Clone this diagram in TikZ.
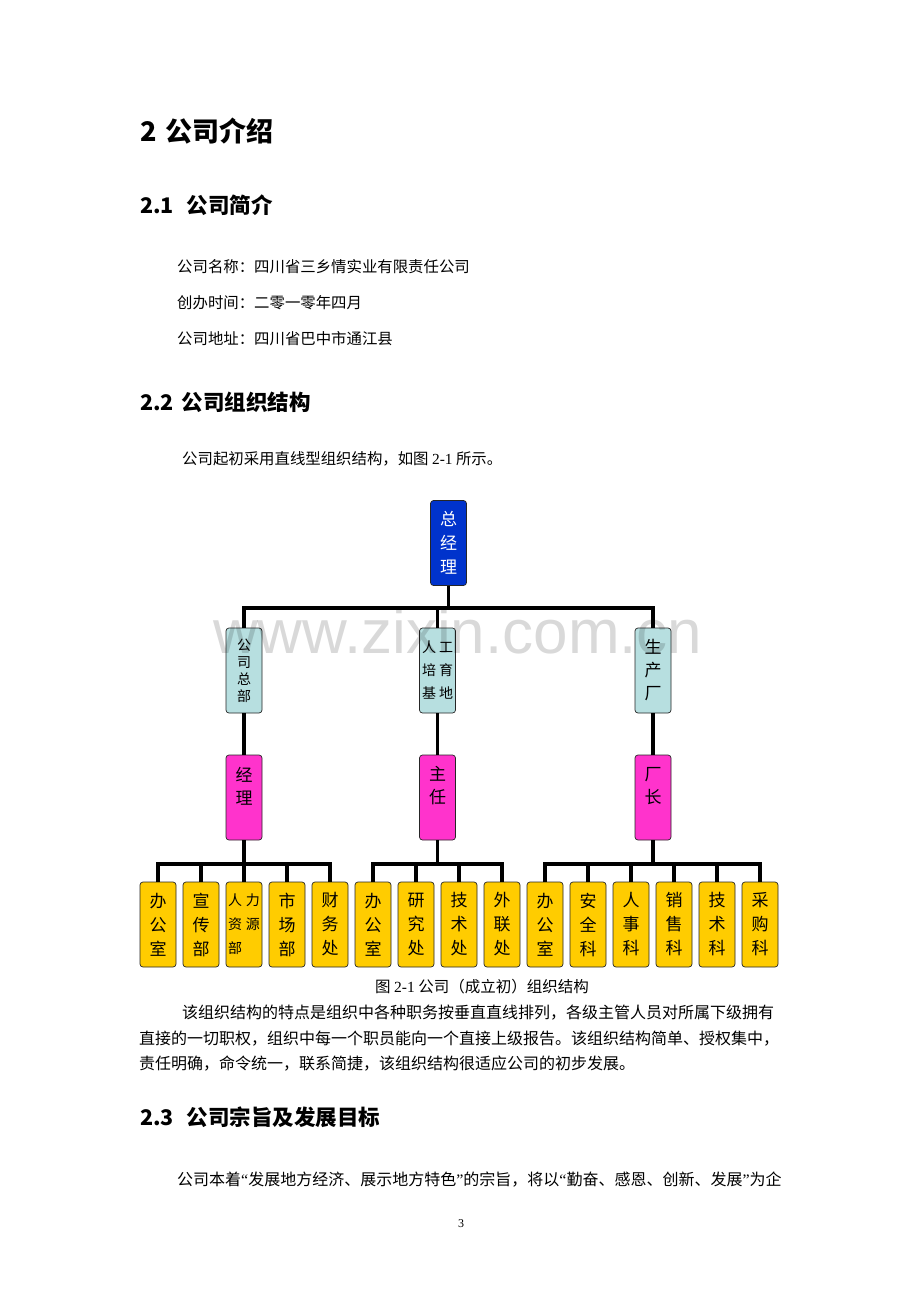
\documentclass[tikz,border=0pt]{standalone}
\usepackage{fontspec}
\setmainfont{Noto Sans CJK SC}
\newfontfamily\serifnum{Liberation Serif}
\newfontfamily\markfont{Liberation Sans}
\usepackage{tikz}
\usetikzlibrary{positioning}
\definecolor{gmblue}{RGB}{0,51,204}
\definecolor{deptcyan}{RGB}{183,223,224}
\definecolor{headpink}{RGB}{255,51,204}
\definecolor{unitgold}{RGB}{255,204,0}

\begin{document}
\begin{tikzpicture}[
    x=1pt, y=-1pt,
    box/.style={draw=black!85, line width=0.7pt, rounded corners=3pt, minimum width=36pt, minimum height=85pt, inner sep=0pt, outer sep=0pt, align=center},
    topbox/.style={box, fill=gmblue, text=white, font=\fontsize{17pt}{24pt}\selectfont},
    deptbox/.style={box, fill=deptcyan, font=\fontsize{17pt}{23pt}\selectfont},
    headbox/.style={box, fill=headpink, font=\fontsize{17pt}{23pt}\selectfont},
    unitbox/.style={box, fill=unitgold, font=\fontsize{17pt}{24pt}\selectfont},
    link/.style={line width=3.5pt},
    title/.style={anchor=base west, inner sep=0pt, font=\bfseries\fontsize{27pt}{27pt}\selectfont},
    subtitle/.style={anchor=base west, inner sep=0pt, font=\bfseries\fontsize{21.5pt}{21.5pt}\selectfont},
    body/.style={anchor=base west, inner sep=0pt, font=\fontsize{15.4pt}{15.4pt}\selectfont},
    para/.style={anchor=base west, inner sep=0pt, font=\fontsize{16pt}{16pt}\selectfont}
]
\fill[white] (0,0) rectangle (920,1302);
\useasboundingbox (0,0) rectangle (920,1302);

% page text
\node[title] (h1) at (140,141) {2\hspace{9pt}公司介绍};
\node[subtitle] (h21) at (140,213) {2.1\hspace{13pt}公司简介};
\node[body] (name) at (177,272) {公司名称：四川省三乡情实业有限责任公司};
\node[body] (date) at (177,308) {创办时间：二零一零年四月};
\node[body] (addr) at (177,344) {公司地址：四川省巴中市通江县};
\node[subtitle] (h22) at (140,410) {2.2\hspace{8pt}公司组织结构};
\node[body] (intro) at (182,464) {公司起初采用直线型组织结构，如图 {\serifnum 2-1} 所示。};

% org chart
\node[topbox] (gm) at (448.5,543) {总\\经\\理};

\node[deptbox, font=\fontsize{14pt}{17pt}\selectfont] (hq) at (244,670.5) {公\\司\\总\\部};
\node[deptbox, font=\fontsize{14pt}{23pt}\selectfont] (base) at (437.5,670.5) {人\hspace{3pt}工\\培\hspace{3pt}育\\基\hspace{3pt}地};
\node[deptbox] (prod) at (653,670.5) {生\\产\\厂};

\node[headbox, below=42pt of hq] (mgr) {经\\理\\\phantom{理}};
\node[headbox, below=42pt of base] (dir) {主\\任\\\phantom{任}};
\node[headbox, below=42pt of prod] (fac) {厂\\长\\\phantom{长}};

\node[unitbox] (u1) at (158,924.5) {办\\公\\室};
\node[unitbox, right=7pt of u1] (u2) {宣\\传\\部};
\node[unitbox, right=7pt of u2, font=\fontsize{14pt}{24pt}\selectfont] (u3) {人\hspace{4pt}力\\资\hspace{4pt}源\\部\hspace{4pt}\phantom{源}};
\node[unitbox, right=7pt of u3] (u4) {市\\场\\部};
\node[unitbox, right=7pt of u4] (u5) {财\\务\\处};
\node[unitbox, right=7pt of u5] (u6) {办\\公\\室};
\node[unitbox, right=7pt of u6] (u7) {研\\究\\处};
\node[unitbox, right=7pt of u7] (u8) {技\\术\\处};
\node[unitbox, right=7pt of u8] (u9) {外\\联\\处};
\node[unitbox, right=7pt of u9] (u10) {办\\公\\室};
\node[unitbox, right=7pt of u10] (u11) {安\\全\\科};
\node[unitbox, right=7pt of u11] (u12) {人\\事\\科};
\node[unitbox, right=7pt of u12] (u13) {销\\售\\科};
\node[unitbox, right=7pt of u13] (u14) {技\\术\\科};
\node[unitbox, right=7pt of u14] (u15) {采\\购\\科};

\coordinate (j0) at (448.5,608);
\coordinate (j1) at (244,864);
\coordinate (j2) at (437.5,864);
\coordinate (j3) at (653,864);

\draw[link] (gm.south) -- (j0);
\draw[link] (hq.north) |- (j0) -| (prod.north);
\draw[link] (base.north) -- (base.north |- j0);

\draw[link] (hq.south) -- (mgr.north);
\draw[link] (base.south) -- (dir.north);
\draw[link] (prod.south) -- (fac.north);

\draw[link] (mgr.south) -- (j1);
\draw[link] (u1.north) |- (j1) -| (u5.north);
\foreach \k in {u2,u3,u4} \draw[link] (\k.north) -- (\k.north |- j1);

\draw[link] (dir.south) -- (j2);
\draw[link] (u6.north) |- (j2) -| (u9.north);
\foreach \k in {u7,u8} \draw[link] (\k.north) -- (\k.north |- j2);

\draw[link] (fac.south) -- (j3);
\draw[link] (u10.north) |- (j3) -| (u15.north);
\foreach \k in {u11,u12,u13,u14} \draw[link] (\k.north) -- (\k.north |- j3);

% caption and following text
\node[anchor=base, inner sep=0pt, font=\fontsize{15.5pt}{15.5pt}\selectfont] (cap) at (482,992) {图 {\serifnum 2-1} 公司（成立初）组织结构};
\node[para] (p1) at (182,1018) {该组织结构的特点是组织中各种职务按垂直直线排列，各级主管人员对所属下级拥有};
\node[para] (p2) at (139,1044) {直接的一切职权，组织中每一个职员能向一个直接上级报告。该组织结构简单、授权集中，};
\node[para] (p3) at (139,1069) {责任明确，命令统一，联系简捷，该组织结构很适应公司的初步发展。};
\node[subtitle] (h23) at (140,1125) {2.3\hspace{13pt}公司宗旨及发展目标};
\node[para] (p4) at (177,1185) {公司本着{\serifnum “}发展地方经济、展示地方特色{\serifnum ”}的宗旨，将以{\serifnum “}勤奋、感恩、创新、发展{\serifnum ”}为企};
\node[anchor=base, inner sep=0pt, font=\serifnum\fontsize{12pt}{12pt}\selectfont] (pg) at (461,1227) {3};

% watermark
\node[anchor=base west, inner sep=0pt, font=\markfont\fontsize{62pt}{62pt}\selectfont, text=black, text opacity=0.15] (mark) at (213,653) {www.zixin.com.cn};
\end{tikzpicture}
\end{document}
